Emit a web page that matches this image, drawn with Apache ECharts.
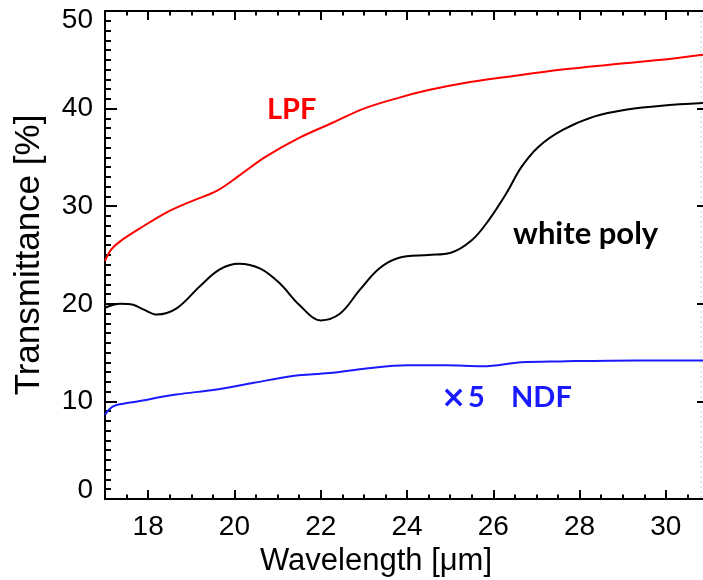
<!DOCTYPE html>
<html><head><meta charset="utf-8">
<script src="https://cdn.jsdelivr.net/npm/echarts@6/dist/echarts.min.js"></script>
<style>html,body{margin:0;padding:0;background:#fff}#c{width:703px;height:580px}</style>
</head><body><div id="c"></div>
<script>
// LPF (red)
const lpfX = [17.0, 17.15, 17.35, 17.8, 18.4, 19.0, 19.6, 20.1, 20.7, 21.5, 22.3, 23.0, 23.8, 24.5, 25.3, 26.4, 27.6, 28.7, 29.9, 31.0];
const lpfY = [24.4, 25.6, 26.4, 27.7, 29.3, 30.5, 31.6, 33.1, 35.0, 37.0, 38.6, 40.0, 41.1, 41.9, 42.6, 43.3, 44.0, 44.5, 45.0, 45.6];
// white poly (black)
const polyX = [17.0, 17.35, 17.65, 17.9, 18.2, 18.65, 19.2, 19.65, 20.1, 20.6, 21.05, 21.5, 22.0, 22.45, 22.9, 23.35, 23.8, 24.5, 25.0, 25.5, 25.9, 26.3, 26.65, 27.05, 27.6, 28.35, 29.1, 29.9, 31.0];
const polyY = [19.6, 20.0, 19.9, 19.4, 18.9, 19.5, 21.8, 23.5, 24.1, 23.6, 22.1, 19.9, 18.3, 19.0, 21.4, 23.6, 24.7, 25.0, 25.2, 26.5, 28.6, 31.3, 34.0, 36.1, 37.8, 39.2, 39.9, 40.3, 40.6];
// NDF x5 (blue)
const ndfX = [17.0, 17.1, 17.25, 17.75, 18.65, 19.55, 20.45, 21.35, 22.2, 23.1, 24.0, 24.9, 25.75, 26.65, 27.55, 29.3, 31.0];
const ndfY = [8.6, 9.2, 9.6, 10.0, 10.7, 11.2, 11.9, 12.6, 12.9, 13.4, 13.7, 13.7, 13.6, 14.0, 14.1, 14.2, 14.2];

const xMin = 17, xMax = 31, yMin = 0, yMax = 50;
const xTitle = 'Wavelength [μm]';
const yTitle = 'Transmittance [%]';

const zip = (xs, ys) => xs.map((x, i) => [x, ys[i]]);
const FONT = 'Liberation Sans';
const axisLine = { show: true, lineStyle: { color: '#000', width: 2 } };

function xAx(pos, major) {
  const a = {
    type: 'value', position: pos, min: xMin, max: xMax,
    axisLine: major ? axisLine : { show: false },
    splitLine: { show: false },
    axisTick: { show: true, inside: true, length: major ? 9 : 4.5, lineStyle: { color: '#000', width: 2 } },
    axisLabel: { show: false }
  };
  if (major) {
    a.splitNumber = 7;
    if (pos === 'bottom') {
      a.axisLabel = { show: true, fontFamily: FONT, fontSize: 28, color: '#000', margin: 14,
        formatter: v => (Math.abs(v % 2) < 1e-9 ? String(v) : '') };
      a.name = xTitle; a.nameLocation = 'middle'; a.nameGap = 47;
      a.nameTextStyle = { fontFamily: FONT, fontSize: 31, color: '#000', padding: [0, 62, 0, 0] };
    }
  } else {
    a.interval = 0.5;
  }
  return a;
}
function yAx(pos, label) {
  const a = {
    type: 'value', position: pos, min: yMin, max: yMax, interval: 10,
    axisLine: axisLine, splitLine: { show: false },
    axisTick: { show: true, inside: true, length: 12, lineStyle: { color: '#000', width: 2 } },
    minorTick: { show: true, splitNumber: 10, length: 6, lineStyle: { color: '#000', width: 2 } },
    axisLabel: { show: false }
  };
  if (label) {
    const st = { fontFamily: FONT, fontSize: 28, color: '#000' };
    a.axisLabel = { show: true, fontFamily: FONT, fontSize: 28, color: '#000', margin: 12,
      formatter: v => v === yMin ? '{lo|' + v + '}' : (v === yMax ? '{hi|' + v + '}' : String(v)),
      rich: { lo: Object.assign({ padding: [0, 0, 18, 0] }, st), hi: Object.assign({ padding: [18, 0, 0, 0] }, st) } };
    a.name = yTitle; a.nameLocation = 'middle'; a.nameGap = 58; a.nameRotate = 90;
    a.nameTextStyle = { fontFamily: FONT, fontSize: 35, color: '#000' };
  }
  return a;
}

const chart = echarts.init(document.getElementById('c'), null, { renderer: 'canvas' });
chart.setOption({
  animation: false,
  backgroundColor: '#fff',
  grid: { left: 105, top: 11, width: 604, height: 488, containLabel: false, outerBoundsMode: 'none' },
  xAxis: [xAx('bottom', true), xAx('bottom', false), xAx('top', true), xAx('top', false)],
  yAxis: [yAx('left', true), yAx('right', false)],
  series: [
    { type: 'line', name: 'LPF', data: zip(lpfX, lpfY), smooth: 0.35, symbol: 'none', lineStyle: { color: '#ff0000', width: 2 }, z: 3 },
    { type: 'line', name: 'white poly', data: zip(polyX, polyY), smooth: 0.35, symbol: 'none', lineStyle: { color: '#000000', width: 2 }, z: 3 },
    { type: 'line', name: 'NDF', data: zip(ndfX, ndfY), smooth: 0.35, symbol: 'none', lineStyle: { color: '#1a1aff', width: 2 }, z: 3 }
  ],
  graphic: [
    { type: 'text', left: 267, top: 95, style: { text: 'LPF', font: 'bold 29px Lato', fill: '#ff0000' } },
    { type: 'text', left: 513, top: 218, style: { text: 'white poly', font: 'bold 31px Lato', fill: '#000' } },
    { type: 'text', left: 441, top: 384, style: { text: '×', font: 'bold 30px "DejaVu Sans"', fill: '#1a1aff' } },
    { type: 'text', left: 468, top: 383, style: { text: '5', font: 'bold 29px Lato', fill: '#1a1aff' } },
    { type: 'text', left: 511, top: 383, style: { text: 'NDF', font: 'bold 29px Lato', fill: '#1a1aff' } },
    { type: 'line', shape: { x1: 701, y1: 11, x2: 701, y2: 499 }, style: { stroke: '#d0d0d0', lineWidth: 1, lineDash: [2, 3] } }
  ]
});
</script></body></html>
